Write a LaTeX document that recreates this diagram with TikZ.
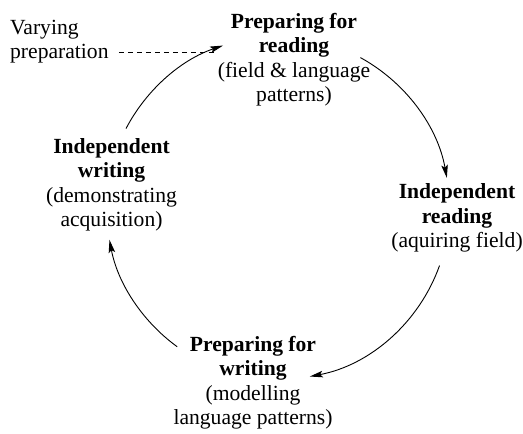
\documentclass[tikz,border=0pt]{standalone}
\usepackage{fontspec}
\setmainfont{Liberation Serif}
\usetikzlibrary{arrows.meta,calc}
\begin{document}
\begin{tikzpicture}[x=1pt,y=1pt,
  lbl/.style={align=center, inner sep=0pt, font=\fontsize{21.6}{24.6}\selectfont, anchor=base},
  arr/.style={line width=0.9pt, -{Stealth[length=13pt,width=6.5pt,inset=2.5pt]}},
  dsh/.style={line width=0.9pt, dash pattern=on 5pt off 4pt},
]
\useasboundingbox (0,0) rectangle (523,434);
\coordinate (ctr) at (278,226);
\def\R{171.5}
\node[lbl] (pr) at (294,332) {\textbf{Preparing for}\\\textbf{reading}\\(field \& language\\patterns)};
\node[lbl] (ir) at (457,186) {\textbf{Independent}\\\textbf{reading}\\(aquiring field)};
\node[lbl] (pw) at (253,9) {\textbf{Preparing for}\\\textbf{writing}\\(modelling\\language patterns)};
\node[lbl] (iw) at (111.5,207) {\textbf{Independent}\\\textbf{writing}\\(demonstrating\\acquisition)};
\node[lbl, anchor=base west, align=left] (vp) at (10,375) {Varying\\preparation};
% cycle arcs
\draw[arr] ($(ctr)+(61.3:\R)$) arc[start angle=61.3, end angle=10.1, radius=\R];
\draw[arr] ($(ctr)+(-19.6:\R)$) arc[start angle=-19.6, end angle=-79.3, radius=\R];
\draw[arr] ($(ctr)+(-126:\R)$) arc[start angle=-126, end angle=-169.3, radius=\R];
\draw[arr] ($(ctr)+(152.4:\R)$) arc[start angle=152.4, end angle=108.7, radius=\R];
\coordinate (dend) at (215,382);
\draw[dsh] (vp.east |- dend) ++(10,0) -- (dend);
\end{tikzpicture}
\end{document}
